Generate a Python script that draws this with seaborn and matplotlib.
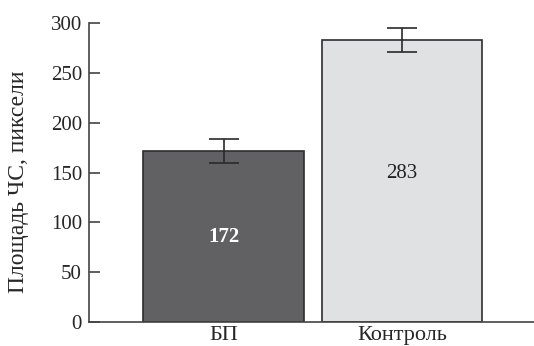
import matplotlib
matplotlib.use("Agg")
import matplotlib.pyplot as plt
import seaborn as sns
import pandas as pd

groups = ["БП", "Контроль"]
areas = [172, 283]
errors = [12, 12]
bar_colors = ["#616163", "#e0e1e3"]
label_colors = ["white", "#222222"]
label_weights = ["bold", "normal"]
label_heights = [85, 149]

sns.set_theme(style="ticks")
plt.rcParams["font.family"] = ["Liberation Serif", "DejaVu Serif"]
plt.rcParams["ytick.direction"] = "in"

df = pd.DataFrame({"group": groups, "area": areas})

fig = plt.figure(figsize=(5.34, 3.46), dpi=100)
ax = fig.add_axes([89 / 534, 24 / 346, 1 - 89 / 534, 299 / 346])

sns.barplot(data=df, x="group", y="area", hue="group", palette=bar_colors,
            legend=False, width=0.9, edgecolor="#2e2e2e", linewidth=1.2,
            errorbar=None, ax=ax)
ax.errorbar(range(len(groups)), areas, yerr=errors, fmt="none",
            ecolor="#2a2a2a", elinewidth=1.2, capsize=11, capthick=1.2)

for i, (v, h, c, w) in enumerate(zip(areas, label_heights, label_colors, label_weights)):
    ax.text(i, h, str(v), ha="center", va="center",
            color=c, fontsize=15, fontweight=w)

ax.set_xlim(-0.755, 1.74)
ax.set_ylim(0, 300)
ax.set_yticks(range(0, 301, 50))
ax.set_xlabel("")
ax.set_ylabel("Площадь ЧС, пиксели", fontsize=17)
ax.yaxis.set_label_coords(-0.135, 0.47)
ax.tick_params(axis="y", direction="in", labelsize=15, length=8, width=1.2,
               color="#444444", pad=5)
ax.tick_params(axis="x", labelsize=16, length=0, pad=3)
for side in ["top", "right"]:
    ax.spines[side].set_visible(False)
for side in ["left", "bottom"]:
    ax.spines[side].set_color("#444444")
    ax.spines[side].set_linewidth(1.2)

fig.savefig("out.png", dpi=100)
